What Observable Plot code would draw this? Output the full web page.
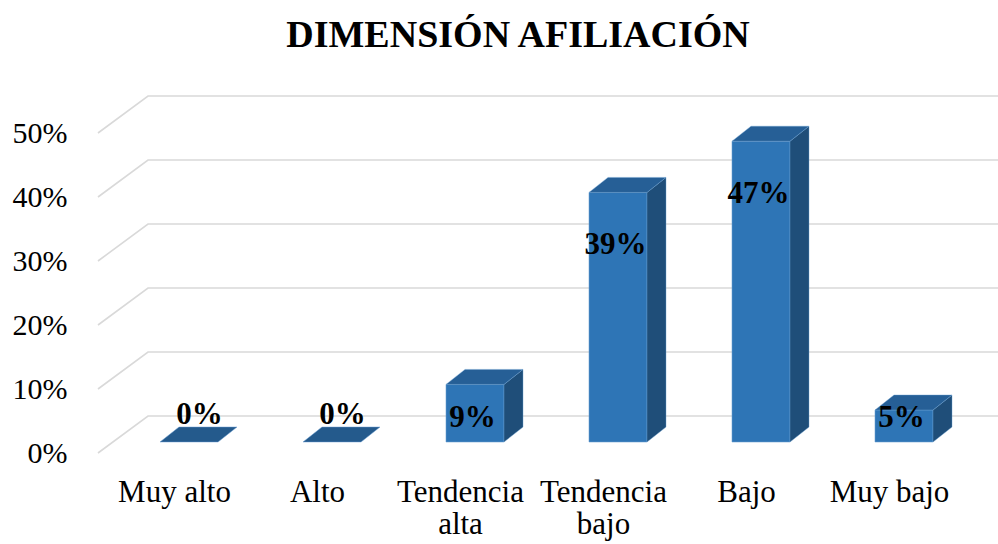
<!DOCTYPE html>
<html><head><meta charset="utf-8">
<script src="https://cdn.jsdelivr.net/npm/d3@7"></script>
<script src="https://cdn.jsdelivr.net/npm/@observablehq/plot@0.6"></script>
<style>
body{margin:0;background:#fff;width:998px;height:544px;overflow:hidden}
#title{height:72px;box-sizing:border-box;padding-top:15px;padding-left:38px;text-align:center;font:bold 38px "Liberation Serif","Times New Roman",serif;line-height:38px;color:#000}
#chart svg{display:block}
</style></head><body>
<div id="title">DIMENSIÓN AFILIACIÓN</div>
<div id="chart"></div>
<script>
const categories = ["Muy alto", "Alto", "Tendencia alta", "Tendencia bajo", "Bajo", "Muy bajo"];
const values = [0, 0, 9, 39, 47, 5];
const valueLabels = ["0%", "0%", "9%", "39%", "47%", "5%"];
const yTicks = [0, 10, 20, 30, 40, 50];
const tickLabels = ["0%", "10%", "20%", "30%", "40%", "50%"];
const categoryLines = {"Tendencia alta": "Tendencia\nalta", "Tendencia bajo": "Tendencia\nbajo"};

const data = categories.map((c, i) => ({cat: c, value: values[i], label: valueLabels[i]}));
const grid = yTicks.map((t, i) => ({t, label: tickLabels[i]}));

const FONT = '"Liberation Serif","Times New Roman",serif';
const FRONT = {dx: -15, dy: 11}, BACK = {dx: 35, dy: -26}, DEPTH = {dx: 19, dy: -15};
const colors = {front: "#2e75b6", top: "#265f96", side: "#1f4e79", flat: "#245a8c", edge: "#6a9fd3", grid: "#d9d9d9"};

function gridRender(index, scales, vals, dims) {
  const g = d3.create("svg:g");
  const x0 = dims.marginLeft, x1 = dims.width - dims.marginRight;
  for (const i of index) {
    const y = scales.y(grid[i].t);
    g.append("path")
      .attr("d", `M${x0 + FRONT.dx},${y + FRONT.dy}L${x0 + BACK.dx},${y + BACK.dy}L${x1 + BACK.dx},${y + BACK.dy}`)
      .attr("fill", "none").attr("stroke", colors.grid).attr("stroke-width", 1.6);
  }
  return g.node();
}

function barRender(index, scales, vals, dims) {
  const g = d3.create("svg:g");
  const bw = typeof scales.x.bandwidth === "function" ? scales.x.bandwidth() : 58;
  const y0 = scales.y(0);
  const {dx, dy} = DEPTH;
  for (const i of index) {
    const d = data[i];
    const xl = scales.x(d.cat), xr = xl + bw, yt = scales.y(d.value);
    if (yt < y0 - 0.5) {
      g.append("path").attr("d", `M${xl},${y0}V${yt}H${xr}V${y0}Z`)
        .attr("fill", colors.front).attr("stroke", colors.edge).attr("stroke-width", 0.8).attr("stroke-opacity", 0.7);
      g.append("path").attr("d", `M${xr},${y0}L${xr + dx},${y0 + dy}V${yt + dy}L${xr},${yt}Z`)
        .attr("fill", colors.side).attr("stroke", colors.edge).attr("stroke-width", 0.8).attr("stroke-opacity", 0.5);
      g.append("path").attr("d", `M${xl},${yt}L${xl + dx},${yt + dy}H${xr + dx}L${xr},${yt}Z`)
        .attr("fill", colors.top).attr("stroke", colors.edge).attr("stroke-width", 0.8).attr("stroke-opacity", 0.5);
    } else {
      g.append("path").attr("d", `M${xl},${yt}L${xl + dx},${yt + dy}H${xr + dx}L${xr},${yt}Z`)
        .attr("fill", colors.flat).attr("stroke", colors.edge).attr("stroke-width", 0.8).attr("stroke-opacity", 0.6);
    }
  }
  return g.node();
}

const plot = Plot.plot({
  width: 998,
  height: 472,
  marginLeft: 113,
  marginRight: 35,
  marginTop: 50,
  marginBottom: 102,
  style: {fontFamily: FONT, background: "#fff", color: "#000", overflow: "visible"},
  x: {type: "band", domain: categories, paddingInner: 0.597, paddingOuter: 0.25, align: 0.61, axis: null},
  y: {domain: [0, 50], axis: null},
  marks: [
    Plot.ruleY(grid, {y: "t", render: gridRender}),
    Plot.text(grid, {y: "t", text: "label", frameAnchor: "left", textAnchor: "end", dx: FRONT.dx - 31, dy: FRONT.dy, fontSize: 30, fill: "#000"}),
    Plot.barY(data, {x: "cat", y: "value", render: barRender}),
    Plot.text(data.filter(d => d.value > 0), {x: "cat", y: d => Math.max(d.value - 8, 4), text: "label", fontSize: 31, fontWeight: "bold", dx: -3, fill: "#000"}),
    Plot.text(data.filter(d => d.value === 0), {x: "cat", y: d => 4.5, text: "label", fontSize: 31, fontWeight: "bold", dx: 10, fill: "#000"}),
    Plot.text(categories, {x: d => d, frameAnchor: "bottom", text: d => categoryLines[d] || d, lineAnchor: "top", lineHeight: 1.03, dx: FRONT.dx, dy: 37, fontSize: 31, fill: "#000"})
  ]
});
document.getElementById("chart").appendChild(plot);
</script>
</body></html>
